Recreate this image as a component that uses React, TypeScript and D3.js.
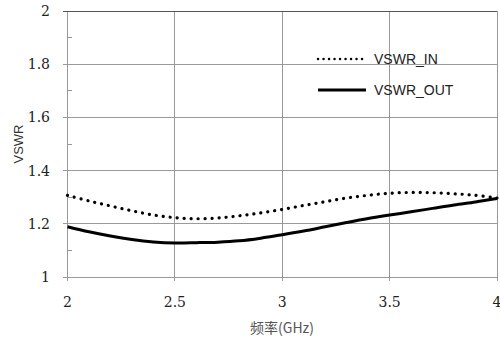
import React, { useRef, useEffect } from 'react';
import * as d3 from 'd3';

const freq = [2.0, 2.1, 2.2, 2.3, 2.4, 2.5, 2.6, 2.7, 2.8, 2.9, 3.0, 3.1, 3.2, 3.3, 3.4, 3.5, 3.6, 3.7, 3.8, 3.9, 4.0];
const vswrIn = [1.307, 1.286, 1.267, 1.249, 1.233, 1.223, 1.219, 1.222, 1.23, 1.241, 1.254, 1.269, 1.283, 1.297, 1.307, 1.315, 1.318, 1.317, 1.313, 1.307, 1.297];
const vswrOut = [1.189, 1.17, 1.154, 1.141, 1.132, 1.128, 1.129, 1.131, 1.136, 1.146, 1.159, 1.173, 1.189, 1.205, 1.22, 1.233, 1.245, 1.258, 1.271, 1.282, 1.295];
const xTicks = [2, 2.5, 3, 3.5, 4];
const yTicks = [1, 1.2, 1.4, 1.6, 1.8, 2];
const yMinor = [1.1, 1.3, 1.5, 1.7, 1.9];
const series = [
  { name: 'VSWR_IN', values: vswrIn, dotted: true },
  { name: 'VSWR_OUT', values: vswrOut, dotted: false },
];

const W = 500, H = 343;
const margin = { top: 11, right: 3, bottom: 66, left: 67.5 };
const serif = "'DejaVu Serif', 'Liberation Serif', serif";

const App = () => {
  const ref = useRef<SVGSVGElement>(null);

  useEffect(() => {
    if (!ref.current) return;
    const svg = d3.select(ref.current);
    svg.selectAll('*').remove();

    const x = d3.scaleLinear().domain([2, 4]).range([margin.left, W - margin.right]);
    const y = d3.scaleLinear().domain([1, 2]).range([H - margin.bottom, margin.top]);

    const grid = svg.append('g').attr('stroke', '#9a9a9a').attr('stroke-width', 1).attr('shape-rendering', 'crispEdges');
    xTicks.forEach(t => {
      grid.append('line').attr('x1', x(t)).attr('x2', x(t)).attr('y1', y(2)).attr('y2', y(1) + 4);
    });
    yTicks.forEach(t => {
      grid.append('line').attr('x1', x(2) - 5).attr('x2', x(4)).attr('y1', y(t)).attr('y2', y(t))
        .attr('stroke', t === 2 ? '#555' : '#9a9a9a');
    });
    yMinor.forEach(t => {
      grid.append('line').attr('x1', x(2)).attr('x2', x(2) + 4).attr('y1', y(t)).attr('y2', y(t));
    });

    // tick labels
    svg.append('g').selectAll('text').data(yTicks).join('text')
      .attr('x', 50).attr('y', d => y(d) + 5)
      .attr('text-anchor', 'end')
      .style('font-family', serif)
      .attr('font-size', 14).attr('fill', '#222')
      .text(d => d3.format('')(d));

    svg.append('g').selectAll('text').data(xTicks).join('text')
      .attr('x', d => x(d)).attr('y', 307)
      .attr('text-anchor', 'middle')
      .style('font-family', serif)
      .attr('font-size', 14).attr('fill', '#222')
      .text(d => d3.format('')(d));

    // axis titles
    svg.append('text')
      .attr('x', 282).attr('y', 333)
      .attr('text-anchor', 'middle')
      .attr('font-family', "'Noto Sans CJK SC', sans-serif")
      .attr('font-size', 14).attr('fill', '#555')
      .text('频率(GHz)');

    svg.append('text')
      .attr('transform', `translate(23,144) rotate(-90)`)
      .attr('text-anchor', 'middle')
      .attr('font-family', "'Liberation Sans', Arial, sans-serif")
      .attr('font-size', 13).attr('fill', '#333')
      .text('VSWR');

    const line = d3.line<number>()
      .x((d, i) => x(freq[i]))
      .y(d => y(d))
      .curve(d3.curveCatmullRom);

    series.forEach(s => {
      const p = svg.append('path')
        .datum(s.values)
        .attr('fill', 'none')
        .attr('stroke', '#000')
        .attr('d', line);
      if (s.dotted) {
        p.attr('stroke-width', 3.2).attr('stroke-linecap', 'round').attr('stroke-dasharray', '0.1 6.9');
      } else {
        p.attr('stroke-width', 3);
      }
    });

    // legend
    const legend = svg.append('g');
    const ly = [59, 90];
    series.forEach((s, i) => {
      const l = legend.append('line')
        .attr('x1', 318).attr('x2', 366).attr('y1', ly[i]).attr('y2', ly[i])
        .attr('stroke', '#000');
      if (s.dotted) {
        l.attr('stroke-width', 2.4).attr('stroke-linecap', 'round').attr('stroke-dasharray', '0.1 5.4');
      } else {
        l.attr('stroke-width', 3);
      }
      legend.append('text')
        .attr('x', 374).attr('y', ly[i] + 5)
        .attr('font-family', "'Liberation Sans', Arial, sans-serif")
        .attr('font-size', 14).attr('fill', '#222')
        .text(s.name);
    });
  }, []);

  return (
    <svg ref={ref} width={W} height={H} style={{ position: 'absolute', left: 0, top: 0, background: '#fff' }} />
  );
};

export default App;
